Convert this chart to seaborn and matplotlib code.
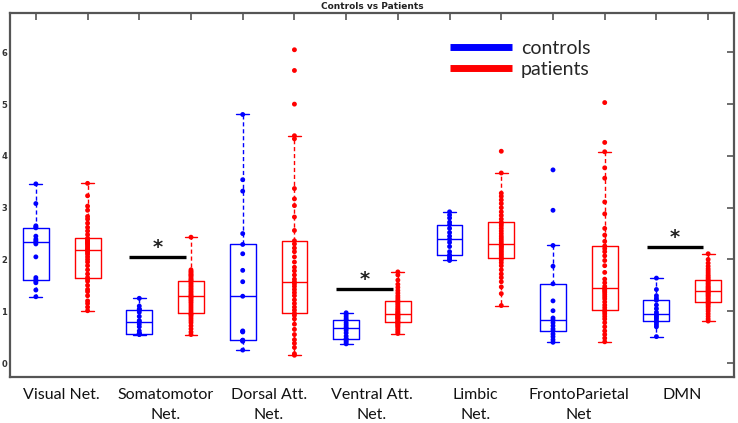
import pandas as pd
import seaborn as sns
import matplotlib.pyplot as plt
from matplotlib.lines import Line2D

# network labels (one pair of boxes per network)
networks = ["Visual Net.", "Somatomotor\nNet.", "Dorsal Att.\nNet.",
            "Ventral Att.\nNet.", "Limbic\nNet.", "FrontoParietal\nNet", "DMN"]

# values, sorted
visual_controls = [1.28, 1.41, 1.55, 1.58, 1.61, 1.65, 2.05, 2.30, 2.33, 2.36,
                   2.39, 2.45, 2.61, 2.63, 2.65, 3.08, 3.46]
visual_patients = [1.01, 1.08, 1.15, 1.20, 1.30, 1.38, 1.42, 1.50, 1.58, 1.62,
                   1.65, 1.72, 1.80, 1.88, 1.95, 2.00, 2.05, 2.10, 2.13, 2.16,
                   2.18, 2.20, 2.23, 2.26, 2.29, 2.31, 2.33, 2.35, 2.37, 2.39,
                   2.41, 2.48, 2.55, 2.62, 2.70, 2.78, 2.83, 2.95, 3.03, 3.23, 3.47]
somato_controls = [0.55, 0.56, 0.56, 0.57, 0.57, 0.62, 0.70, 0.75, 0.80, 0.82,
                   0.90, 0.98, 1.02, 1.04, 1.04, 1.10, 1.25]
somato_patients = [0.55, 0.60, 0.66, 0.72, 0.78, 0.82, 0.86, 0.90, 0.93, 0.95,
                   0.96, 1.00, 1.04, 1.08, 1.12, 1.16, 1.19, 1.22, 1.25, 1.27,
                   1.29, 1.31, 1.34, 1.37, 1.40, 1.43, 1.46, 1.49, 1.52, 1.55,
                   1.58, 1.60, 1.62, 1.65, 1.68, 1.70, 1.72, 1.75, 1.77, 1.80, 2.43]
dorsal_controls = [0.25, 0.42, 0.43, 0.44, 0.44, 0.60, 0.61, 0.62, 1.29, 1.57,
                   1.79, 2.11, 2.29, 2.50, 3.32, 3.54, 4.80]
dorsal_patients = [0.15, 0.18, 0.30, 0.38, 0.45, 0.55, 0.65, 0.75, 0.85, 0.92,
                   0.96, 1.02, 1.08, 1.15, 1.22, 1.30, 1.36, 1.42, 1.48, 1.53,
                   1.57, 1.62, 1.70, 1.78, 1.85, 1.95, 2.05, 2.15, 2.22, 2.30,
                   2.36, 2.56, 2.82, 3.04, 3.17, 3.37, 4.33, 4.39, 5.00, 5.65, 6.05]
ventral_controls = [0.37, 0.40, 0.43, 0.46, 0.47, 0.52, 0.58, 0.63, 0.67, 0.70,
                    0.74, 0.78, 0.83, 0.86, 0.90, 0.94, 0.97]
ventral_patients = [0.57, 0.60, 0.63, 0.66, 0.69, 0.71, 0.73, 0.75, 0.77, 0.78,
                    0.79, 0.80, 0.82, 0.84, 0.86, 0.87, 0.88, 0.90, 0.91, 0.93,
                    0.94, 0.96, 0.98, 1.00, 1.03, 1.05, 1.08, 1.11, 1.14, 1.17,
                    1.19, 1.22, 1.26, 1.30, 1.35, 1.40, 1.46, 1.52, 1.60, 1.70, 1.76]
limbic_controls = [1.98, 2.00, 2.03, 2.06, 2.09, 2.15, 2.25, 2.33, 2.39, 2.45,
                   2.52, 2.60, 2.67, 2.72, 2.80, 2.86, 2.92]
limbic_patients = [1.11, 1.34, 1.47, 1.57, 1.65, 1.72, 1.80, 1.88, 1.94, 1.99,
                   2.02, 2.05, 2.08, 2.11, 2.14, 2.17, 2.20, 2.23, 2.25, 2.27,
                   2.29, 2.33, 2.37, 2.41, 2.45, 2.50, 2.55, 2.60, 2.65, 2.69,
                   2.72, 2.78, 2.85, 2.92, 3.00, 3.08, 3.15, 3.22, 3.28, 3.67, 4.09]
fp_controls = [0.40, 0.45, 0.51, 0.56, 0.62, 0.66, 0.72, 0.78, 0.83, 0.87,
               1.01, 1.20, 1.53, 1.87, 2.27, 2.95, 3.73]
fp_patients = [0.41, 0.48, 0.55, 0.62, 0.70, 0.78, 0.85, 0.90, 0.95, 0.99,
               1.02, 1.07, 1.12, 1.18, 1.24, 1.28, 1.32, 1.36, 1.39, 1.42,
               1.44, 1.48, 1.55, 1.62, 1.75, 1.88, 1.98, 2.07, 2.15, 2.21,
               2.26, 2.35, 2.47, 2.60, 2.88, 3.11, 3.57, 3.77, 4.08, 4.26, 5.03]
dmn_controls = [0.51, 0.70, 0.74, 0.78, 0.81, 0.85, 0.88, 0.91, 0.94, 0.98,
                1.05, 1.12, 1.21, 1.25, 1.30, 1.42, 1.64]
dmn_patients = [0.81, 0.85, 0.90, 0.95, 1.00, 1.04, 1.08, 1.11, 1.14, 1.16,
                1.18, 1.20, 1.23, 1.25, 1.28, 1.30, 1.32, 1.34, 1.36, 1.38,
                1.39, 1.41, 1.43, 1.45, 1.47, 1.49, 1.52, 1.54, 1.57, 1.59,
                1.61, 1.64, 1.67, 1.70, 1.74, 1.78, 1.82, 1.87, 1.93, 2.00, 2.11]

controls = [visual_controls, somato_controls, dorsal_controls, ventral_controls,
            limbic_controls, fp_controls, dmn_controls]
patients = [visual_patients, somato_patients, dorsal_patients, ventral_patients,
            limbic_patients, fp_patients, dmn_patients]

# significant differences: network index and height of the bar
sig_networks = [1, 3, 6]
sig_heights = [2.05, 1.43, 2.24]

palette = {"controls": "#0000FF", "patients": "#FF0000"}

rows = []
for i, name in enumerate(networks):
    for g, vals in (("controls", controls[i]), ("patients", patients[i])):
        pos = 2 * i + (1 if g == "controls" else 2)
        for v in vals:
            rows.append({"network": name, "group": g, "pos": pos, "value": v})
df = pd.DataFrame(rows)

sns.set_style("white")
plt.rcParams["font.family"] = ["DejaVu Sans"]

fig = plt.figure(figsize=(7.38, 4.23), dpi=100)
ax = fig.add_axes([10 / 738, 1 - 377 / 423, 724 / 738, 364 / 423])

sns.boxplot(data=df, x="pos", y="value", hue="group", palette=palette,
            native_scale=True, dodge=False, width=0.5, fill=False,
            showfliers=False, linewidth=1.0, legend=False, ax=ax,
            whiskerprops={"linestyle": (0, (3, 2))})
sns.stripplot(data=df, x="pos", y="value", hue="group", palette=palette,
              native_scale=True, dodge=False, jitter=False, size=3.5,
              legend=False, ax=ax, zorder=3)

for i, h in zip(sig_networks, sig_heights):
    c = 2 * i + 1
    ax.plot([c - 0.19, c + 0.9], [h, h], color="black", lw=2.4,
            solid_capstyle="butt")
    ax.text(c + 0.36, h + 0.0, "*", ha="center", va="bottom", fontsize=14,
            fontweight="bold", color="#222222")

ax.set_xlim(0.5, 14.5)
ax.set_ylim(-0.27, 6.76)
ax.set_xticks(range(1, 15))
ax.set_xticklabels([])
ax.set_xticks([2 * i + 1.5 for i in range(len(networks))], minor=True)
ax.set_xticklabels(networks, minor=True, fontsize=11.5, family="Lato",
                   color="#111111", linespacing=1.5)
ax.set_yticks(range(0, 7))
ax.set_yticklabels([str(t) for t in range(0, 7)], fontsize=6,
                   fontweight="bold", color="#333333")
ax.tick_params(axis="both", which="major", direction="in", length=5,
               width=1.2, color="#555555", top=True, right=True, pad=2)
ax.tick_params(axis="x", which="minor", length=0, pad=8)
ax.set_xlabel("")
ax.set_ylabel("")
for s in ax.spines.values():
    s.set_color("#555555")
    s.set_linewidth(1.6)

ax.set_title("Controls vs Patients", fontsize=6.5, fontweight="bold",
             color="#222222", pad=3)

handles = [Line2D([], [], color=palette["controls"], lw=5, solid_capstyle="butt"),
           Line2D([], [], color=palette["patients"], lw=5, solid_capstyle="butt")]
ax.legend(handles, ["controls", "patients"], loc="upper left",
          bbox_to_anchor=((450 - 10) / 724, (377 - 40) / 364),
          frameon=False, borderpad=0, borderaxespad=0, handlelength=3.2,
          handletextpad=0.45, labelspacing=0.22,
          prop={"family": "Lato", "size": 14})

fig.savefig("out.png", dpi=100)
